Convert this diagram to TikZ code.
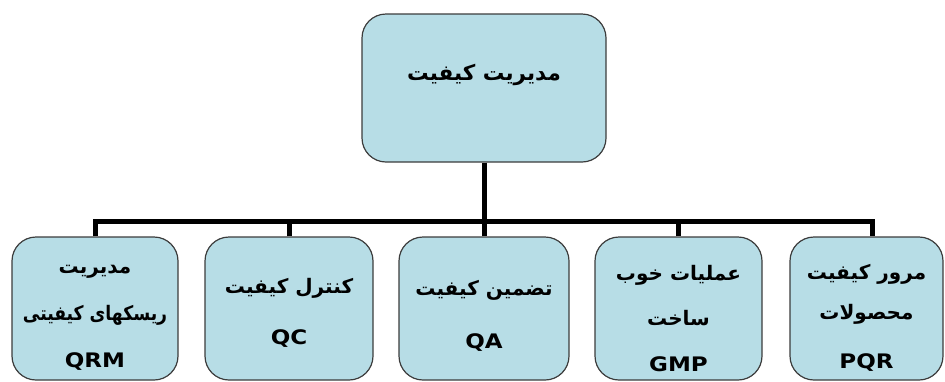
\documentclass[tikz,border=0pt]{standalone}
\usepackage{fontspec}
\TeXXeTstate=1
\newfontfamily\fafont[Script=Arabic]{DejaVu Sans}
\newfontfamily\fanarrow[Script=Arabic,FakeStretch=0.86]{DejaVu Sans}
\newfontfamily\latfont[FakeStretch=1.15]{DejaVu Sans}
\definecolor{boxfill}{RGB}{183,221,230}
\definecolor{boxline}{RGB}{60,60,60}
\tikzset{
  box/.style={draw=boxline, line width=1.2pt, fill=boxfill, rounded corners=24pt, inner sep=0pt},
  fa/.style={font=\fafont\bfseries\fontsize{20}{24}\selectfont, inner sep=0pt},
  fanar/.style={font=\fanarrow\bfseries\fontsize{20}{24}\selectfont, inner sep=0pt},
  fatop/.style={font=\fafont\bfseries\fontsize{21.5}{26}\selectfont, inner sep=0pt},
  lat/.style={font=\latfont\bfseries\fontsize{20}{24}\selectfont, inner sep=0pt},
  conn/.style={line width=5pt, black, line join=miter}
}
\begin{document}
\begin{tikzpicture}[x=1pt,y=-1pt]
\useasboundingbox (0,0) rectangle (945,381);
% boxes
\node[box, minimum width=244pt, minimum height=148pt] (top) at (484,88) {};
\node[box, minimum width=166pt, minimum height=143pt] (c1) at (95,308.5) {};
\node[box, minimum width=168pt, minimum height=143pt] (c2) at (289,308.5) {};
\node[box, minimum width=170pt, minimum height=143pt] (c3) at (484,308.5) {};
\node[box, minimum width=167pt, minimum height=143pt] (c4) at (678.5,308.5) {};
\node[box, minimum width=153pt, minimum height=143pt] (c5) at (866.5,308.5) {};
% connectors
\coordinate (bus) at (0,221);
\draw[conn] (top.south) -- (top.south |- bus);
\draw[conn] (c1.north) -- (c1.north |- bus) -- ([xshift=6pt]c5.north |- bus) -- ([xshift=6pt]c5.north);
\draw[conn] (c2.north) -- (c2.north |- bus);
\draw[conn] (c3.north) -- (c3.north |- bus);
\draw[conn] (c4.north) -- (c4.north |- bus);
% texts
\node[fatop] (ttop) at (484,75) {\beginR مدیریت کیفیت\endR};
\node[fa] (t1a) at (95,272) {\beginR مدیریت\endR};
\node[fanar] (t1b) at (95,315) {\beginR ریسکهای کیفیتی\endR};
\node[lat] (t1c) at (95,362) {QRM};
\node[fa] (t2a) at (289,288) {\beginR کنترل کیفیت\endR};
\node[lat] (t2b) at (289,339) {QC};
\node[fa] (t3a) at (484,290) {\beginR تضمین کیفیت\endR};
\node[lat] (t3b) at (484,343) {QA};
\node[fa] (t4a) at (678.5,275) {\beginR عملیات خوب\endR};
\node[fa] (t4b) at (678.5,318) {\beginR ساخت\endR};
\node[lat] (t4c) at (678.5,364) {GMP};
\node[fa] (t5a) at (866.5,274) {\beginR مرور کیفیت\endR};
\node[fa] (t5b) at (866.5,314) {\beginR محصولات\endR};
\node[lat] (t5c) at (866.5,363) {PQR};
\end{tikzpicture}
\end{document}
